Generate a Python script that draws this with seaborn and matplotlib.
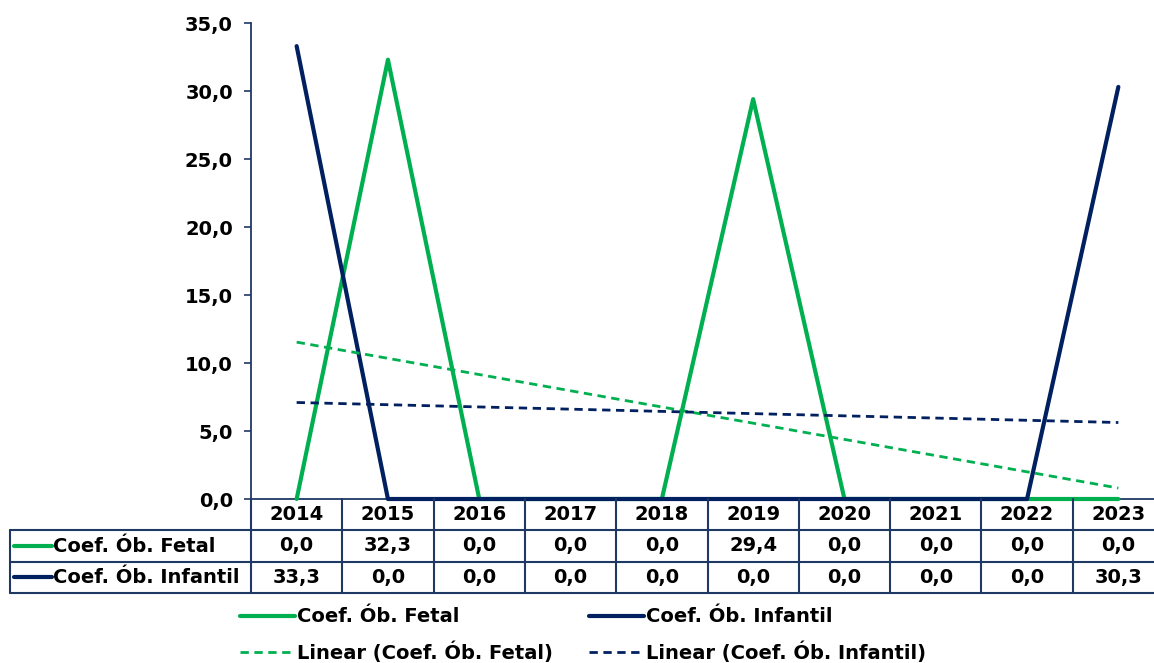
"""Coeficientes de óbito fetal e infantil, 2014-2023"""
import numpy as np
import pandas as pd
import seaborn as sns
import matplotlib.pyplot as plt
from matplotlib.lines import Line2D
from matplotlib.ticker import FuncFormatter, MultipleLocator

years = ['2014', '2015', '2016', '2017', '2018', '2019', '2020', '2021', '2022', '2023']
fetal = [0.0, 32.3, 0.0, 0.0, 0.0, 29.4, 0.0, 0.0, 0.0, 0.0]
infantil = [33.3, 0.0, 0.0, 0.0, 0.0, 0.0, 0.0, 0.0, 0.0, 30.3]
series_names = ['Coef. Ób. Fetal', 'Coef. Ób. Infantil']
colors = ['#00B050', '#002060']
grid_color = '#1F3864'
FS = 14
dash = (0, (3, 2))

sns.set_style('white')
plt.rcParams['font.family'] = ['DejaVu Sans']
plt.rcParams['font.weight'] = 'bold'
plt.rcParams['text.color'] = 'black'
plt.rcParams['ytick.labelcolor'] = 'black'

df = pd.DataFrame({
    'pos': list(range(len(years))) * 2,
    'value': fetal + infantil,
    'series': [series_names[0]] * len(years) + [series_names[1]] * len(years),
})

W, H = 1154, 663
fig = plt.figure(figsize=(W / 100, H / 100), dpi=100)
ax = fig.add_axes([251 / W, (H - 499) / H, 913 / W, 476 / H])
tab = fig.add_axes([251 / W, (H - 593) / H, 913 / W, 94 / H], sharex=ax)

# main series
for name, color in zip(series_names, colors):
    sns.lineplot(data=df[df['series'] == name], x='pos', y='value', color=color,
                 lw=3, ax=ax, legend=False, clip_on=False, zorder=3)

# linear trend lines
for name, color in zip(series_names, colors):
    sns.regplot(data=df[df['series'] == name], x='pos', y='value', ax=ax,
                scatter=False, ci=None, color=color,
                line_kws={'lw': 2, 'ls': dash, 'zorder': 4})

ax.set_xlim(-0.5, len(years) - 0.5)
ax.set_ylim(0, 35)
ax.yaxis.set_major_locator(MultipleLocator(5))
ax.yaxis.set_major_formatter(FuncFormatter(lambda v, _: f'{v:.1f}'.replace('.', ',')))
ax.set_xlabel('')
ax.set_ylabel('')
ax.set_xticks([])
ax.tick_params(axis='y', left=True, length=5, width=1.2, color=grid_color,
               pad=8, labelsize=FS, labelcolor='black')
for lab in ax.get_yticklabels():
    lab.set_fontweight('bold')
for s in ['top', 'right']:
    ax.spines[s].set_visible(False)
for s in ['left', 'bottom']:
    ax.spines[s].set_color(grid_color)
    ax.spines[s].set_linewidth(1.3)

# data table under the axis
col_px = 913 / len(years)
lab_left = -0.5 - (251 - 10) / col_px
right = len(years) - 0.5 + 0.5
tab.set_ylim(3, 0)
tab.axis('off')
kw = dict(color=grid_color, lw=1.5, clip_on=False)
for y in [1, 2, 3]:
    tab.plot([lab_left, right], [y, y], **kw)
for i in range(len(years) + 1):
    tab.plot([i - 0.5, i - 0.5], [0, 3], **kw)
tab.plot([lab_left, lab_left], [1, 3], **kw)

for i, yr in enumerate(years):
    tab.text(i, 0.5, yr, ha='center', va='center', fontsize=FS, fontweight='bold')
for r, (vals, name, color) in enumerate(zip([fetal, infantil], series_names, colors)):
    yc = r + 1.5
    for i, v in enumerate(vals):
        tab.text(i, yc, f'{v:.1f}'.replace('.', ','), ha='center', va='center',
                 fontsize=FS, fontweight='bold')
    tab.plot([lab_left + 4 / col_px, lab_left + 42 / col_px], [yc, yc],
             color=color, lw=3, clip_on=False)
    tab.text(lab_left + 43 / col_px, yc, name, ha='left', va='center',
             fontsize=FS, fontweight='bold')

handles = [
    Line2D([], [], color=colors[0], lw=3),
    Line2D([], [], color=colors[0], lw=2, ls=dash),
    Line2D([], [], color=colors[1], lw=3),
    Line2D([], [], color=colors[1], lw=2, ls=dash),
]
labels = [series_names[0], f'Linear ({series_names[0]})',
          series_names[1], f'Linear ({series_names[1]})']
fig.legend(handles, labels, ncol=2, loc='center', bbox_to_anchor=(583 / W, 28 / H),
           frameon=False, prop={'weight': 'bold', 'size': FS}, handlelength=2.8,
           handletextpad=0.1, columnspacing=1.9, labelspacing=0.75)

fig.savefig('out.png', dpi=100)
plt.close(fig)
